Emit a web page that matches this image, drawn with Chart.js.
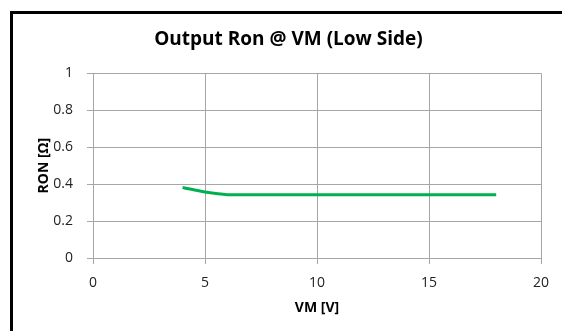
<!DOCTYPE html>
<html>
<head>
<meta charset="utf-8">
<script src="https://cdn.jsdelivr.net/npm/chart.js@4.4.1/dist/chart.umd.min.js"></script>
<style>
  html, body { margin: 0; padding: 0; background: #fff; }
  #wrap { width: 562px; height: 331px; position: relative; }
</style>
</head>
<body>
<div id="wrap"><canvas id="chart1"></canvas></div>
<script>
// values
const vm = [4, 5, 6, 7, 8, 9, 10, 11, 12, 13, 14, 15, 16, 17, 18];
const ron = [0.382, 0.357, 0.343, 0.342, 0.342, 0.342, 0.342, 0.342, 0.342, 0.342, 0.342, 0.342, 0.342, 0.342, 0.342];

const chartTitle = "Output Ron @ VM (Low Side)";
const xTitle = "VM [V]";
const yTitle = "RON [Ω]";

const fontFamily = "'Open Sans', 'Noto Sans', sans-serif";
const gridColor = "#a6a6a6";
const textColor = "#222";

const points = vm.map((v, i) => ({ x: v, y: ron[i] }));

// white background plus the black frame on left and top
const framePlugin = {
  id: "frame",
  beforeDraw(chart) {
    const ctx = chart.ctx;
    ctx.save();
    ctx.fillStyle = "#fff";
    ctx.fillRect(0, 0, chart.width, chart.height);
    ctx.strokeStyle = "#000";
    ctx.lineWidth = 3;
    ctx.beginPath();
    ctx.moveTo(11.5, chart.height);
    ctx.lineTo(11.5, 12.5);
    ctx.lineTo(chart.width, 12.5);
    ctx.stroke();
    ctx.restore();
  },
};

const config = {
  type: "line",
  data: {
    datasets: [
      {
        data: points,
        borderColor: "#00b050",
        borderWidth: 3,
        pointRadius: 0,
        cubicInterpolationMode: "monotone",
        fill: false,
      },
    ],
  },
  options: {
    responsive: true,
    maintainAspectRatio: false,
    animation: false,
    layout: { padding: { left: 36, right: 21, top: 0, bottom: 0 } },
    plugins: {
      legend: { display: false },
      tooltip: { enabled: false },
      title: {
        display: true,
        text: chartTitle,
        color: "#000",
        font: { family: fontFamily, size: 19, weight: "bold", lineHeight: 1.2 },
        padding: { top: 28.5, bottom: 22 },
      },
    },
    scales: {
      x: {
        type: "linear",
        min: 0,
        max: 20,
        ticks: {
          stepSize: 5,
          color: textColor,
          font: { family: fontFamily, size: 14 },
          padding: 11,
          maxRotation: 0,
        },
        grid: { color: gridColor, tickLength: 6, drawTicks: true },
        border: { color: gridColor },
        title: {
          display: true,
          text: xTitle,
          color: "#000",
          font: { family: fontFamily, size: 14, weight: "bold", lineHeight: 1.2 },
          padding: { top: 0, bottom: 14.5 },
        },
        afterFit(scale) {
          scale.height = 73;
        },
      },
      y: {
        min: 0,
        max: 1,
        ticks: {
          stepSize: 0.2,
          color: textColor,
          font: { family: fontFamily, size: 14 },
          padding: 14,
          callback: (v) => String(Math.round(v * 10) / 10),
        },
        grid: { color: gridColor, tickLength: 6, drawTicks: true },
        border: { color: gridColor },
        title: {
          display: true,
          text: yTitle,
          color: "#000",
          font: { family: fontFamily, size: 14, weight: "bold", lineHeight: 1.2 },
          padding: { top: 0, bottom: 0 },
        },
        afterFit(scale) {
          scale.width = 57;
        },
      },
    },
  },
  plugins: [framePlugin],
};

new Chart(document.getElementById("chart1"), config);
</script>
</body>
</html>
